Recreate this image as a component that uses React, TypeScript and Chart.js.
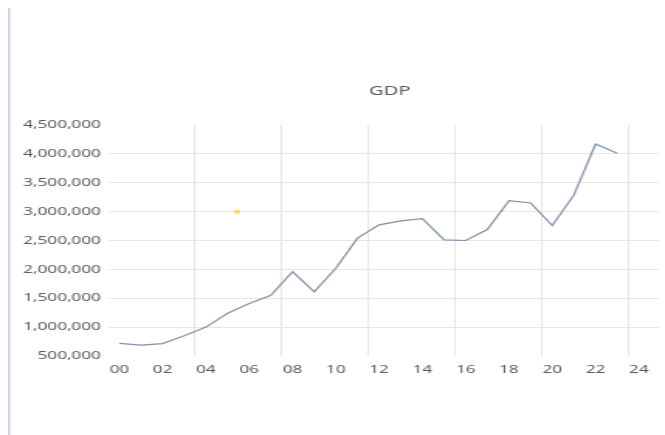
import { useEffect, useRef } from 'react';
import { Chart, registerables } from 'chart.js';

Chart.register(...registerables);

const years = [2000, 2001, 2002, 2003, 2004, 2005, 2006, 2007, 2008, 2009, 2010, 2011, 2012, 2013, 2014, 2015, 2016, 2017, 2018, 2019, 2020, 2021, 2022, 2023];
const gdp = [720000, 690000, 715000, 850000, 1000000, 1240000, 1410000, 1550000, 1960000, 1610000, 2020000, 2540000, 2770000, 2840000, 2880000, 2510000, 2500000, 2690000, 3190000, 3150000, 2760000, 3290000, 4170000, 4010000];
const xTickValues = [2000, 2002, 2004, 2006, 2008, 2010, 2012, 2014, 2016, 2018, 2020, 2022, 2024];
const xGridValues = [2003.5, 2007.5, 2011.5, 2015.5, 2019.5, 2023.5];
const yTickValues = [500000, 1000000, 1500000, 2000000, 2500000, 3000000, 3500000, 4000000, 4500000];
const markerPoint = [{ x: 2005.45, y: 3000000 }];
const titleText = 'GDP';

const STRETCH = 1.55;
const W = 665;
const H = 435;
const CW = Math.round(W / STRETCH);
const X_MIN = 1999.5;
const X_MAX = 2024.92;
const FONT = 'Noto Sans';

const titlePlugin = {
  id: 'gdpTitle',
  afterDraw(chart: any) {
    const { ctx, chartArea } = chart;
    ctx.save();
    ctx.font = `13px "${FONT}"`;
    ctx.fillStyle = '#595959';
    ctx.textAlign = 'center';
    ctx.textBaseline = 'middle';
    ctx.fillText(titleText, (chartArea.left + chartArea.right) / 2 + 4, 91);
    ctx.restore();
  },
};

export default function App() {
  const ref = useRef<HTMLCanvasElement | null>(null);

  useEffect(() => {
    if (!ref.current) return;
    const chart = new Chart(ref.current, {
      type: 'line',
      data: {
        datasets: [
          {
            data: years.map((yr, i) => ({ x: yr, y: gdp[i] })),
            borderColor: '#8190a6',
            borderWidth: 1.2,
            pointRadius: 0,
            tension: 0,
            fill: false,
            xAxisID: 'x',
            yAxisID: 'y',
          },
          {
            data: markerPoint,
            showLine: false,
            pointRadius: 2,
            pointBorderWidth: 0,
            pointBackgroundColor: 'rgba(255, 205, 40, 0.8)',
            borderColor: 'rgba(255, 205, 40, 0.8)',
            xAxisID: 'x',
            yAxisID: 'y',
          },
        ],
      },
      options: {
        responsive: false,
        animation: false,
        devicePixelRatio: 1,
        layout: { padding: { top: 125, bottom: 59, left: 0, right: 0 } },
        plugins: {
          legend: { display: false },
          tooltip: { enabled: false },
          title: { display: false },
        },
        scales: {
          x: {
            type: 'linear',
            position: 'bottom',
            min: X_MIN,
            max: X_MAX,
            afterBuildTicks: (s: any) => {
              s.ticks = xTickValues.map((v) => ({ value: v }));
            },
            ticks: {
              padding: 7,
              color: '#595959',
              font: { family: FONT, size: 11 },
              autoSkip: false,
              maxRotation: 0,
              callback: (v: any) => String(Number(v) % 100).padStart(2, '0'),
            },
            grid: { display: false, drawTicks: false },
            border: { display: false },
            afterFit: (s: any) => {
              s.height = 20;
            },
          },
          x2: {
            type: 'linear',
            position: 'bottom',
            min: X_MIN,
            max: X_MAX,
            afterBuildTicks: (s: any) => {
              s.ticks = xGridValues.map((v) => ({ value: v }));
            },
            ticks: { display: false },
            grid: { color: '#dedede', lineWidth: 0.75, drawTicks: false },
            border: { display: false },
            afterFit: (s: any) => {
              s.height = 0;
            },
          },
          y: {
            type: 'linear',
            min: 500000,
            max: 4500000,
            afterBuildTicks: (s: any) => {
              s.ticks = yTickValues.map((v) => ({ value: v }));
            },
            ticks: {
              padding: 5,
              color: '#595959',
              font: { family: FONT, size: 11 },
              callback: (v: any) => Number(v).toLocaleString('en-US'),
            },
            grid: {
              color: (c: any) =>
                c.tick && (c.tick.value === 500000 || c.tick.value === 4500000) ? 'rgba(0,0,0,0)' : '#e6e6e6',
              lineWidth: 1,
              drawTicks: false,
            },
            border: { display: false },
            afterFit: (s: any) => {
              s.width = 70;
            },
          },
        },
      },
      plugins: [titlePlugin],
    });
    return () => chart.destroy();
  }, []);

  return (
    <div style={{ position: 'fixed', left: 0, top: 0, width: W, height: H, background: '#ffffff', overflow: 'hidden' }}>
      <canvas
        ref={ref}
        width={CW}
        height={H}
        style={{ position: 'absolute', left: 0, top: 0, width: `${W}px`, height: `${H}px` }}
      />
      <div
        style={{
          position: 'absolute',
          left: 8,
          top: 8,
          width: 3,
          bottom: 0,
          background: 'linear-gradient(to right, #c3d0e3, #e9eef6)',
        }}
      />
    </div>
  );
}
